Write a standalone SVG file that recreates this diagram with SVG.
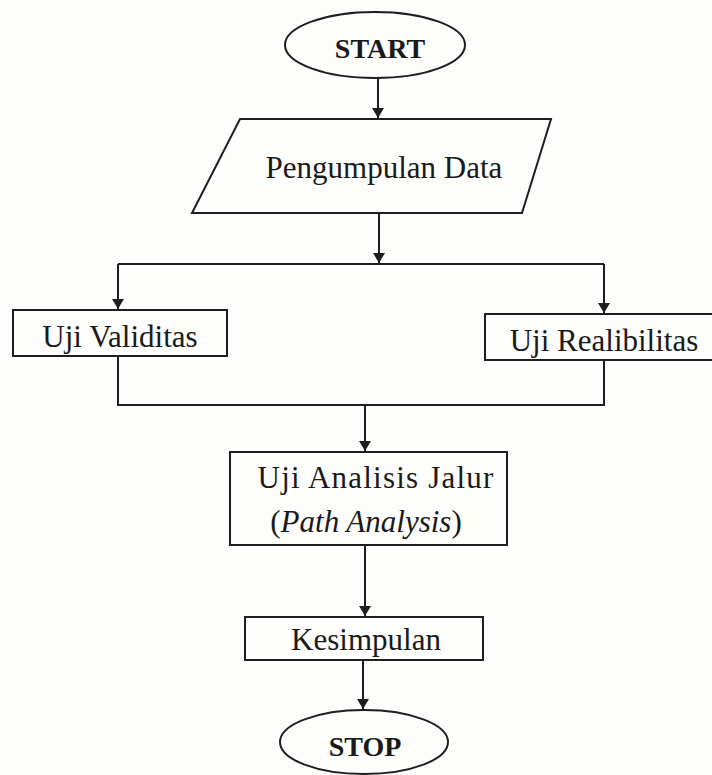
<svg xmlns="http://www.w3.org/2000/svg" width="712" height="775" viewBox="0 0 712 775">
<defs>
<marker id="ah" viewBox="0 0 10 12" refX="10" refY="6" markerWidth="10" markerHeight="12" markerUnits="userSpaceOnUse" orient="auto">
<path d="M0,0 L10,6 L0,12 Z" fill="#1e1e1e"/>
</marker>
</defs>
<style>
.sh{fill:none;stroke:#1e1e1e;stroke-width:2}
.t{font-family:"Liberation Serif","Times New Roman",serif;font-size:31px;fill:#1a1a1a;text-anchor:middle}
.b{font-weight:bold;font-size:28px}
.c{fill:none;stroke:#1e1e1e;stroke-width:2}
</style>
<rect width="712" height="775" fill="#fdfdfb"/>
<g id="connectors">
<path class="c" d="M378,78 V118" marker-end="url(#ah)"/>
<path class="c" d="M379,213 V263" marker-end="url(#ah)"/>
<path class="c" d="M118,264 H604"/>
<path class="c" d="M118,264 V309" marker-end="url(#ah)"/>
<path class="c" d="M604,264 V313" marker-end="url(#ah)"/>
<path class="c" d="M118,357 V405 H604 V361"/>
<path class="c" d="M365,405 V451" marker-end="url(#ah)"/>
<path class="c" d="M365,546 V616" marker-end="url(#ah)"/>
<path class="c" d="M363,661 V709" marker-end="url(#ah)"/>
</g>
<g id="start">
<ellipse class="sh" cx="375" cy="45" rx="90" ry="33"/>
<text class="t b" x="380" y="58">START</text>
</g>
<g id="pengumpulan">
<polygon class="sh" points="240,119 551,119 522,213 192,213"/>
<text class="t" x="384" y="178">Pengumpulan Data</text>
</g>
<g id="validitas">
<rect class="sh" x="13" y="310" width="214" height="46"/>
<text class="t" x="120" y="347">Uji Validitas</text>
</g>
<g id="realibilitas">
<rect class="sh" x="485" y="314" width="240" height="46"/>
<text class="t" x="604" y="351">Uji Realibilitas</text>
</g>
<g id="analisis">
<rect class="sh" x="230" y="452" width="277" height="93"/>
<text class="t" x="376" y="488" letter-spacing="1.2">Uji Analisis Jalur</text>
<text class="t" x="366" y="532">(<tspan font-style="italic">Path Analysis</tspan>)</text>
</g>
<g id="kesimpulan">
<rect class="sh" x="245" y="617" width="238" height="43"/>
<text class="t" x="366" y="650">Kesimpulan</text>
</g>
<g id="stop">
<ellipse class="sh" cx="364" cy="742" rx="84" ry="32"/>
<text class="t b" x="365" y="756">STOP</text>
</g>
</svg>
